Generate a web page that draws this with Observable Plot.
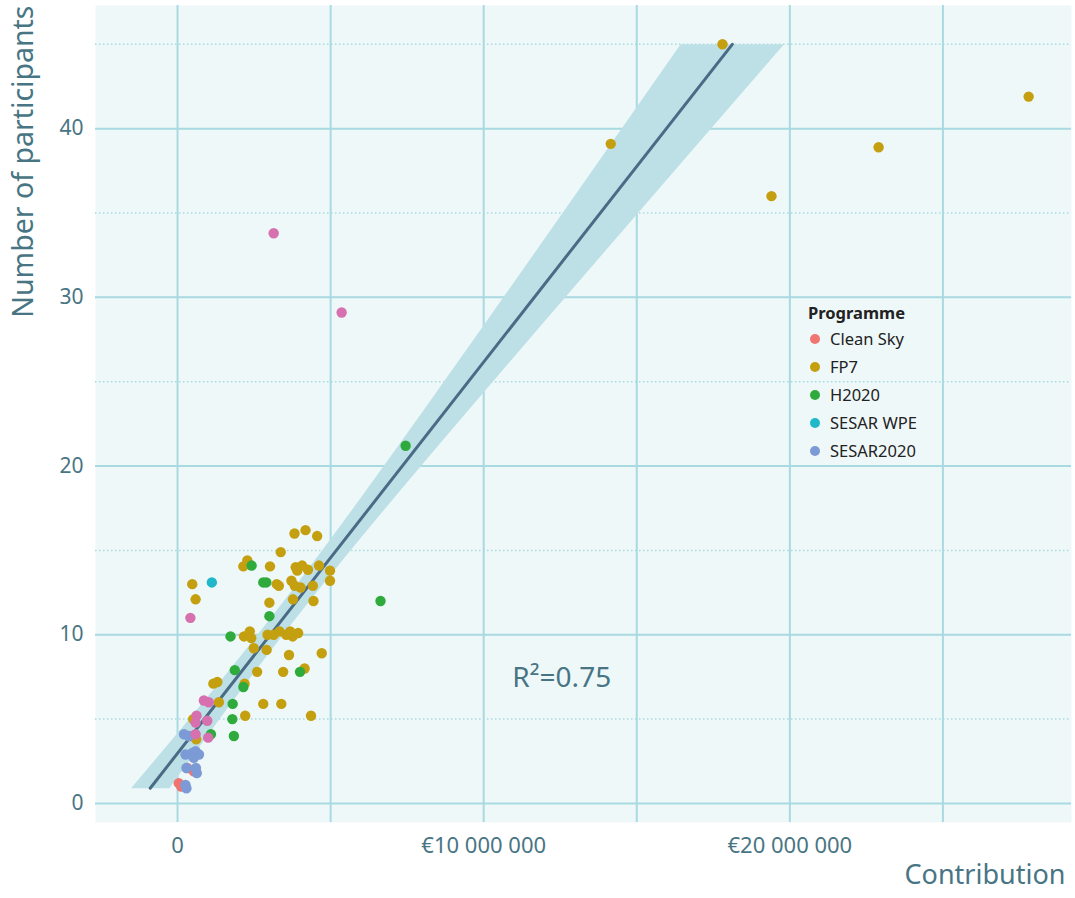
<!DOCTYPE html>
<html><head><meta charset="utf-8">
<script src="https://cdn.jsdelivr.net/npm/d3@7"></script>
<script src="https://cdn.jsdelivr.net/npm/@observablehq/plot@0.6"></script>
<style>
body{margin:0;background:#fff;font-family:"Noto Sans",sans-serif;}
#wrap{position:relative;width:1075px;height:898px;}
#legend{position:absolute;left:808px;top:301px;color:#222;font-size:16.5px;line-height:28px;}
#legend .t{font-weight:bold;line-height:24px;}
#legend .i{display:flex;align-items:center;}
#legend .d{width:10px;height:10px;border-radius:50%;margin:0 10px 0 2px;}
</style></head><body><div id="wrap"></div>
<script>
// Contribution in millions of euros, participants
const programmes = ["Clean Sky","FP7","H2020","SESAR WPE","SESAR2020","Other"];
const colors = ["#f07470","#c4a010","#2eab3c","#1fb8c8","#7c9bd6","#d670ae"];
const legendProgrammes = ["Clean Sky","FP7","H2020","SESAR WPE","SESAR2020"];

const cleanSkyX = [0.42,0.32,0.53,0.04,0.12];
const cleanSkyY = [4,2.1,1.9,1.2,1.0];

const fp7X = [17.8,27.8,22.9,19.4,14.15,
  3.82,4.18,4.56,3.37,
  2.28,2.15,3.02,3.86,4.07,3.91,4.26,4.62,4.98,4.98,
  0.48,0.59,
  3.24,3.31,3.72,3.83,4.02,4.42,
  3.77,4.44,3.0,
  2.17,2.36,2.41,2.94,3.14,3.33,3.55,3.68,3.76,3.94,
  2.49,2.91,3.64,4.71,
  2.6,3.45,4.15,
  1.17,1.3,2.19,
  1.35,2.8,3.39,
  2.21,4.36,0.51,0.61];
const fp7Y = [45,41.9,38.9,36.0,39.1,
  16.0,16.2,15.85,14.9,
  14.4,14.05,14.05,14.0,14.1,13.8,13.85,14.1,13.8,13.2,
  13.0,12.1,
  13.0,12.9,13.2,12.9,12.8,12.9,
  12.1,12.0,11.9,
  9.9,10.2,9.8,10.0,10.0,10.2,10.0,10.2,9.9,10.1,
  9.2,9.1,8.8,8.9,
  7.8,7.8,8.0,
  7.1,7.2,7.1,
  6.0,5.9,5.9,
  5.2,5.2,5.0,3.8];

const h2020X = [2.42,2.8,2.9,3.0,1.73,1.87,4.0,2.15,1.8,1.79,1.09,1.84,6.63,7.45];
const h2020Y = [14.1,13.1,13.1,11.1,9.9,7.9,7.8,6.9,5.9,5.0,4.1,4.0,12.0,21.2];

const sesarWpeX = [1.12];
const sesarWpeY = [13.1];

const sesar2020X = [0.21,0.37,0.26,0.48,0.59,0.70,0.53,0.29,0.60,0.63,0.26,0.29];
const sesar2020Y = [4.1,4.0,2.9,3.0,3.1,2.9,2.7,2.1,2.1,1.8,1.1,0.9];

const otherX = [3.14,5.36,0.42,0.86,1.02,0.62,0.59,0.97,0.59,1.0];
const otherY = [33.8,29.1,11.0,6.1,6.0,5.2,4.8,4.9,4.1,3.9];

const xGrid = [0,5,10,15,20,25];
const yMajor = [0,10,20,30,40];
const yMinor = [5,15,25,35,45];
const xTicks = [0,10,20];
const xTickLabels = ["0","€10 000 000","€20 000 000"];
const rLabel = [{x:12.55, y:7.45, text:"R²=0.75"}];

const series = [
  [cleanSkyX, cleanSkyY], [fp7X, fp7Y], [h2020X, h2020Y],
  [sesarWpeX, sesarWpeY], [sesar2020X, sesar2020Y], [otherX, otherY]
];
const data = series.flatMap(([xs, ys], k) => xs.map((x, i) => ({programme: programmes[k], x, y: ys[i]})));

const txt = "#487584";
const grid = "#a9d9e1";

const chart = Plot.plot({
  width: 1075, height: 898,
  marginLeft: 95, marginRight: 4, marginTop: 5, marginBottom: 76,
  style: {fontFamily: "'Noto Sans', sans-serif", fontSize: "20px", background: "#fff"},
  x: {domain: [-2.68, 29.2]},
  y: {domain: [-1.13, 47.3]},
  color: {domain: programmes, range: colors},
  marks: [
    Plot.frame({fill: "#eff8f9", stroke: null}),
    Plot.ruleX(xGrid, {stroke: grid, strokeWidth: 2}),
    Plot.ruleY(yMajor, {stroke: grid, strokeWidth: 2}),
    Plot.ruleY(yMinor, {stroke: grid, strokeWidth: 1.5, strokeDasharray: "1.5,2.5"}),
    Plot.linearRegressionX(data, {x: "x", y: "y", ci: 0.93, stroke: "#4a6b85", strokeWidth: 3, fill: "#bde0e6", fillOpacity: 1}),
    Plot.dot(data, {x: "x", y: "y", fill: "programme", r: 5.2, stroke: null}),
    Plot.text(rLabel, {x: "x", y: "y", text: "text", fill: txt, fontSize: 28}),
    Plot.axisX(xTicks, {tickSize: 0, tickPadding: 15, tickFormat: (d, i) => xTickLabels[i], color: txt, fontSize: 22, label: null}),
    Plot.axisY(yMajor, {tickSize: 0, tickPadding: 12, color: txt, fontSize: 21, label: null}),
    Plot.text(["Contribution"], {frameAnchor: "bottom-right", dx: -6, dy: 61, textAnchor: "end", fill: txt, fontSize: 27}),
    Plot.text(["Number of participants"], {frameAnchor: "top-left", dx: -83, dy: 0, rotate: -90, textAnchor: "end", fill: txt, fontSize: 28.5})
  ]
});
const wrap = document.getElementById("wrap");
wrap.appendChild(chart);
const lg = document.createElement("div");
lg.id = "legend";
lg.innerHTML = `<div class="t">Programme</div>` + legendProgrammes.map(p =>
  `<div class="i"><span class="d" style="background:${colors[programmes.indexOf(p)]}"></span>${p}</div>`).join("");
wrap.appendChild(lg);
</script></body></html>
